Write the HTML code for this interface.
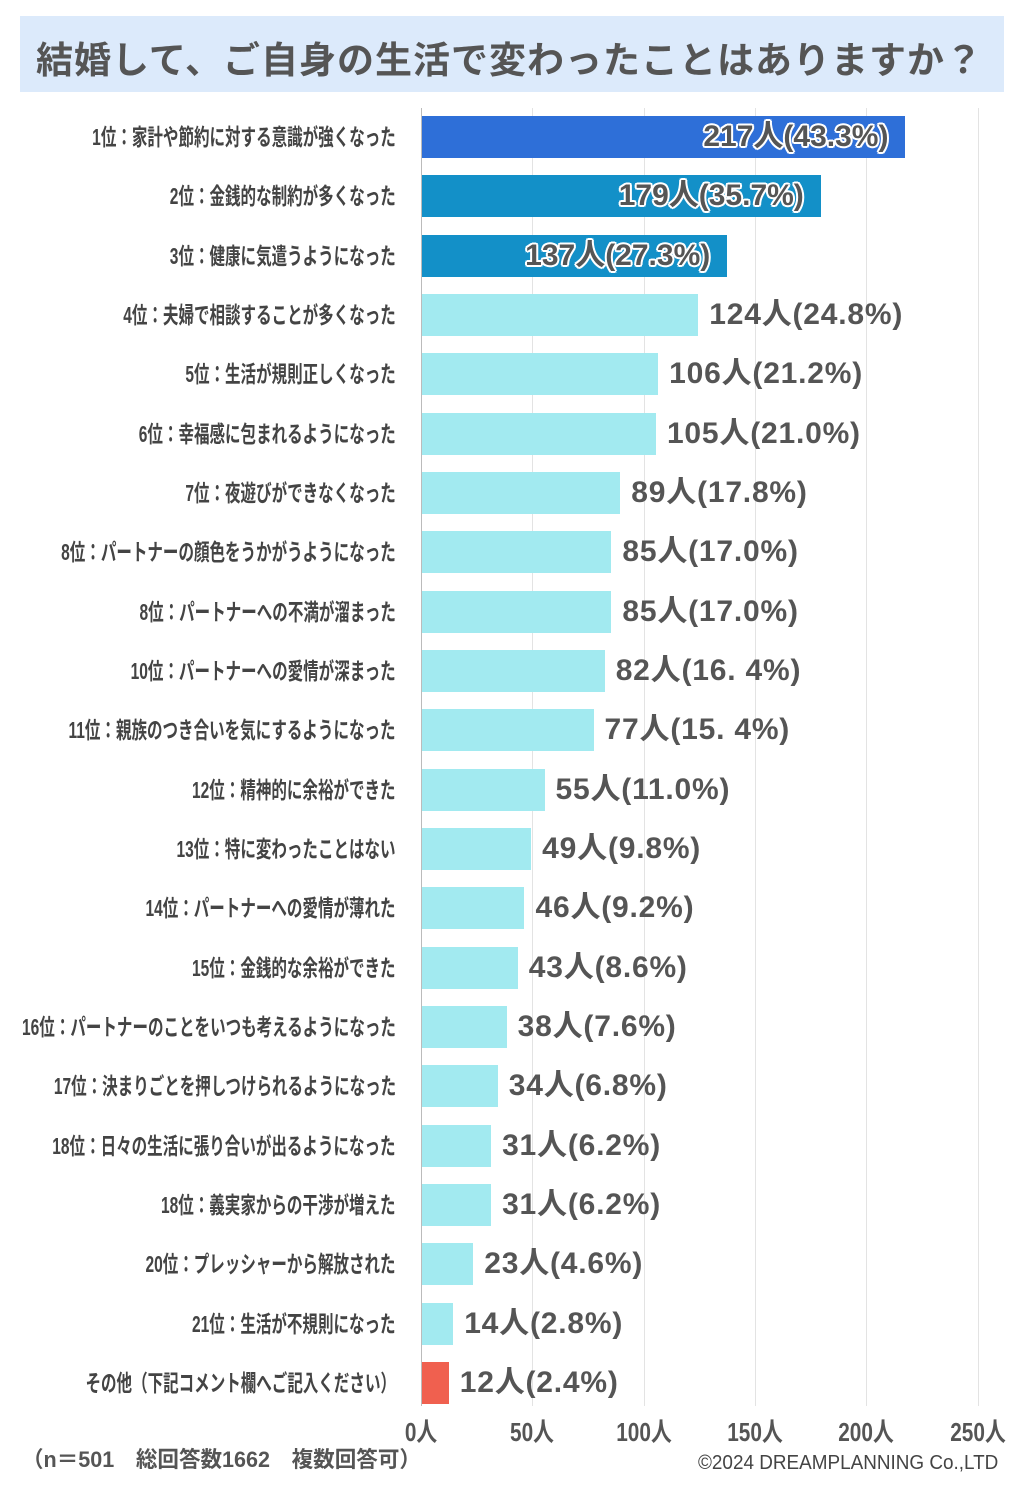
<!DOCTYPE html>
<html><head><meta charset="utf-8"><style>
body{margin:0;width:1024px;height:1500px;background:#fff;position:relative;overflow:hidden;font-family:"Liberation Sans","Noto Sans CJK JP",sans-serif;color:#555}
.title{position:absolute;left:20px;top:16px;width:984px;height:76px;background:#dceafb;}
.title span{position:absolute;left:16px;top:14px;font-size:37px;font-weight:bold;color:#555;letter-spacing:1px;white-space:nowrap}
.grid{position:absolute;top:108px;height:1298px;width:1px;background:#e3e3e3}
.lab{position:absolute;right:628px;font-weight:bold;font-size:23px;white-space:nowrap;transform:scaleX(0.675);transform-origin:right center;color:#444;line-height:30px}
.bar{position:absolute;left:422px;height:42px}
.val{position:absolute;font-weight:bold;font-size:30px;white-space:nowrap;line-height:40px;color:#555;letter-spacing:0.8px}
.in{color:#555;letter-spacing:0;text-shadow:-2px 0 #fff,2px 0 #fff,0 -2px #fff,0 2px #fff,-1.5px -1.5px #fff,1.5px 1.5px #fff,-1.5px 1.5px #fff,1.5px -1.5px #fff}
.tick{position:absolute;top:1412px;font-weight:bold;font-size:26px;transform:scaleX(0.8);color:#555;width:80px;text-align:center}
</style></head><body>
<div class="title"><span>結婚して、ご自身の生活で変わったことはありますか？</span></div>
<div class="grid" style="left:421px;background:#bbb"></div>
<div class="grid" style="left:532px"></div>
<div class="grid" style="left:644px"></div>
<div class="grid" style="left:755px"></div>
<div class="grid" style="left:866px"></div>
<div class="grid" style="left:978px"></div>
<div id="rows"></div>
<div class="tick" style="left:381px">0人</div>
<div class="tick" style="left:492px">50人</div>
<div class="tick" style="left:604px">100人</div>
<div class="tick" style="left:715px">150人</div>
<div class="tick" style="left:826px">200人</div>
<div class="tick" style="left:938px">250人</div>
<div style="position:absolute;left:22px;top:1442px;font-size:22px;font-weight:bold;color:#555;white-space:nowrap;transform:scaleX(0.98);transform-origin:left">（n＝501　総回答数1662　複数回答可）</div>
<div style="position:absolute;left:698px;top:1452px;font-size:20px;color:#444;white-space:nowrap;transform:scaleX(0.945);transform-origin:left">©2024 DREAMPLANNING Co.,LTD</div>
<script>
var d=[["1位：家計や節約に対する意識が強くなった",217,"43.3%"],["2位：金銭的な制約が多くなった",179,"35.7%"],["3位：健康に気遣うようになった",137,"27.3%"],["4位：夫婦で相談することが多くなった",124,"24.8%"],["5位：生活が規則正しくなった",106,"21.2%"],["6位：幸福感に包まれるようになった",105,"21.0%"],["7位：夜遊びができなくなった",89,"17.8%"],["8位：パートナーの顔色をうかがうようになった",85,"17.0%"],["8位：パートナーへの不満が溜まった",85,"17.0%"],["10位：パートナーへの愛情が深まった",82,"16. 4%"],["11位：親族のつき合いを気にするようになった",77,"15. 4%"],["12位：精神的に余裕ができた",55,"11.0%"],["13位：特に変わったことはない",49,"9.8%"],["14位：パートナーへの愛情が薄れた",46,"9.2%"],["15位：金銭的な余裕ができた",43,"8.6%"],["16位：パートナーのことをいつも考えるようになった",38,"7.6%"],["17位：決まりごとを押しつけられるようになった",34,"6.8%"],["18位：日々の生活に張り合いが出るようになった",31,"6.2%"],["18位：義実家からの干渉が増えた",31,"6.2%"],["20位：プレッシャーから解放された",23,"4.6%"],["21位：生活が不規則になった",14,"2.8%"],["その他（下記コメント欄へご記入ください）",12,"2.4%"]];
var h="";
for(var i=0;i<d.length;i++){var c=137+i*59.33;var w=d[i][1]*2.228;
var col=i==0?"#2e6fd8":(i<3?"#1390c8":(i==21?"#f0604f":"#a2eaf0"));
h+='<div class="lab" style="top:'+(c-15)+'px">'+d[i][0]+'</div>';
h+='<div class="bar" style="top:'+(c-21)+'px;width:'+w+'px;background:'+col+'"></div>';
var t=d[i][1]+'人('+d[i][2]+')';
if(i<3)h+='<div class="val in" style="top:'+(c-20)+'px;right:'+(1024-422-w+17)+'px">'+t+'</div>';
else h+='<div class="val" style="top:'+(c-20)+'px;left:'+(422+w+11)+'px">'+t+'</div>';}
document.getElementById("rows").innerHTML=h;
</script>
</body></html>
